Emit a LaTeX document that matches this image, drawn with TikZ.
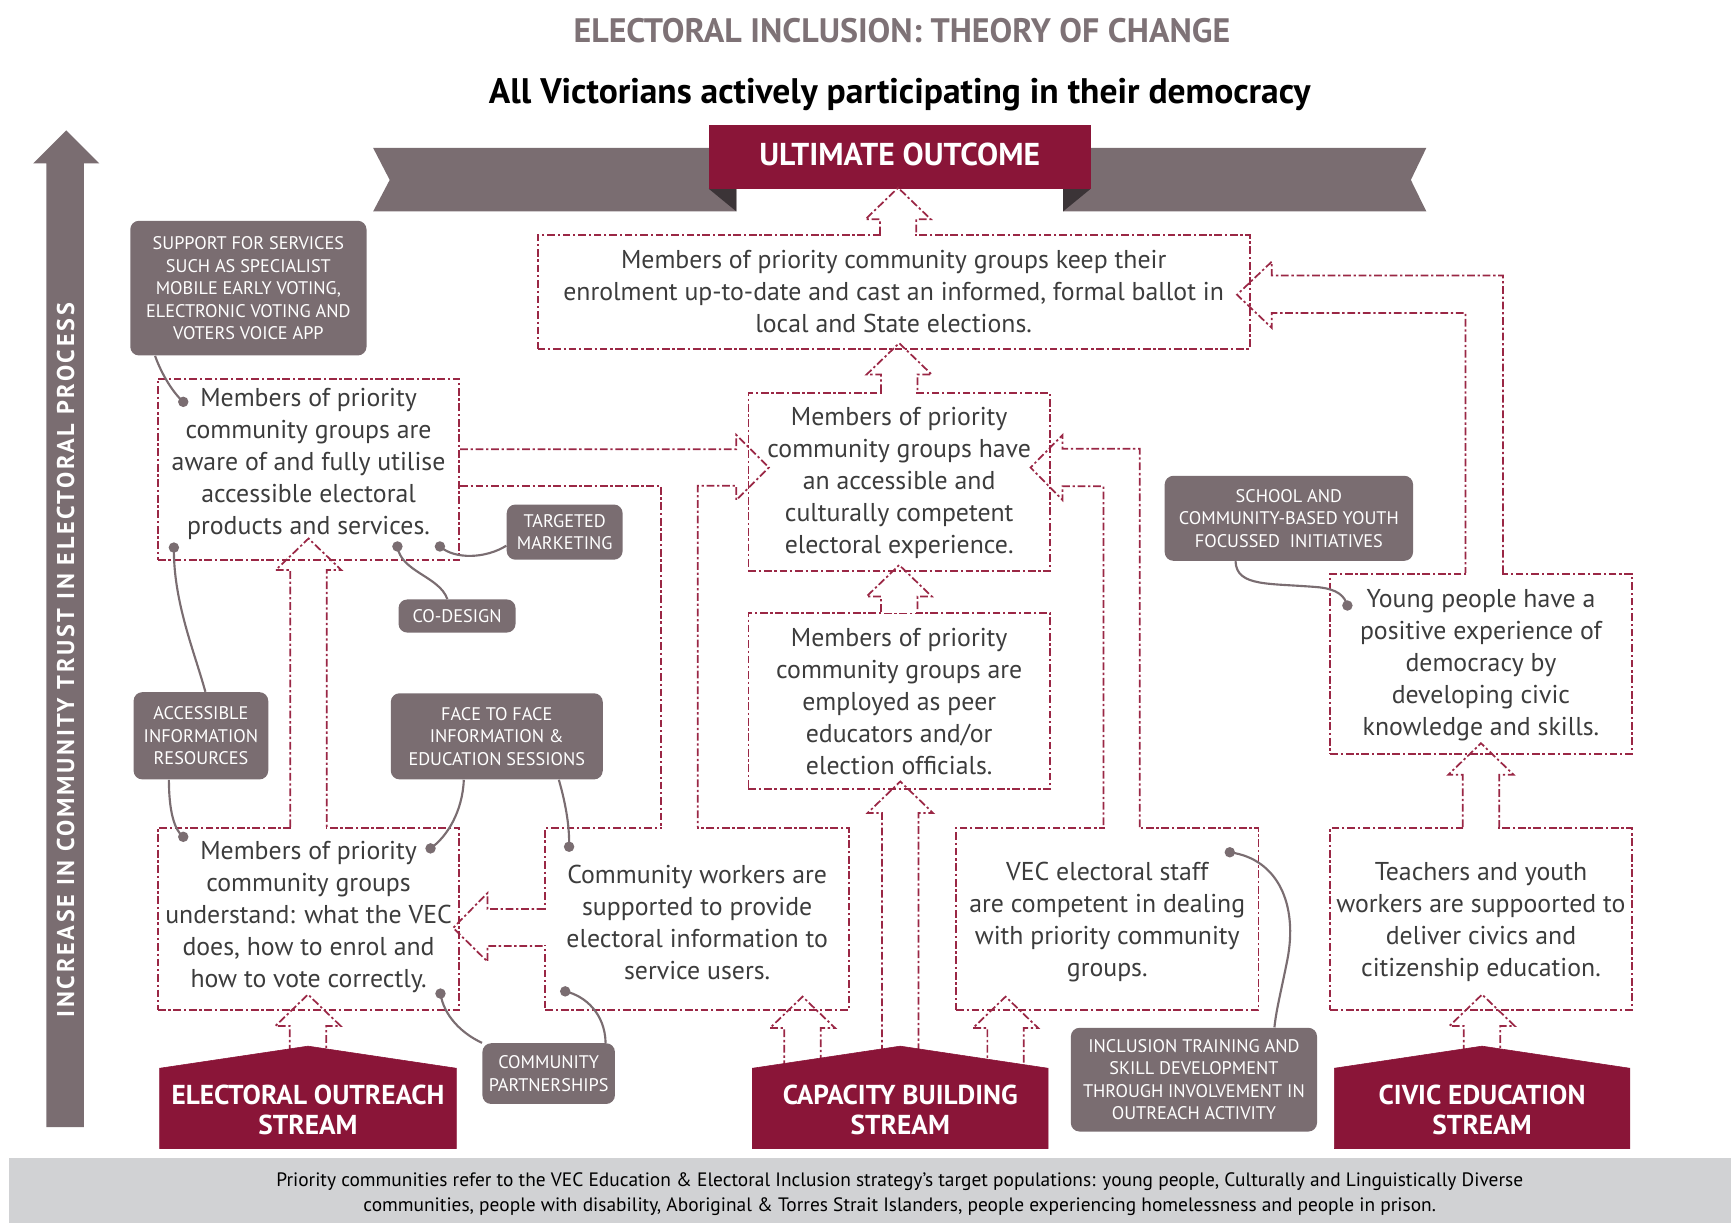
\documentclass[tikz,border=0pt]{standalone}
\usepackage{fontspec}
\setmainfont{PT Sans}
\newfontfamily\trustfamily{PT Sans}[LetterSpace=11]
\usetikzlibrary{fit,calc,positioning}

\definecolor{vecred}{HTML}{8A1538}
\definecolor{flowred}{HTML}{9A2745}
\definecolor{taggray}{HTML}{7A6D71}
\definecolor{folddark}{HTML}{3B3437}
\definecolor{bodytext}{HTML}{3C3C3C}
\definecolor{headgray}{HTML}{7E7276}
\definecolor{notegray}{HTML}{D1D2D4}

\newcommand{\goalfont}{\fontsize{13.3}{16.5}\selectfont}
\newcommand{\tagfont}{\fontsize{9.4}{11.6}\selectfont}
\newcommand{\streamfont}{\fontsize{14.1}{15.4}\selectfont\bfseries}
\newcommand{\headfont}{\fontsize{17.5}{20}\selectfont\bfseries}
\newcommand{\subheadfont}{\fontsize{18.3}{22}\selectfont\bfseries}
\newcommand{\outcomefont}{\fontsize{16.3}{18}\selectfont\bfseries}
\newcommand{\trustfont}{\trustfamily\bfseries\fontsize{12.5}{14}\selectfont}
\newcommand{\notefont}{\fontsize{10}{13}\selectfont}

\tikzset{
  goal/.style={draw=flowred, line width=0.9pt, dash pattern=on 4pt off 1.4pt on 1.2pt off 1.4pt, inner sep=0pt},
  flow/.style={draw=flowred, line width=0.9pt, dash pattern=on 4pt off 1.4pt on 1.2pt off 1.4pt},
  goaltext/.style={align=center, text=bodytext, font=\goalfont, inner sep=0pt},
  tag/.style={fill=taggray, rounded corners=4.5pt, inner sep=0pt},
  tagtext/.style={align=center, text=white, font=\tagfont, inner sep=0pt},
  streambox/.style={inner sep=0pt},
  streamtext/.style={align=center, text=white, font=\streamfont, inner sep=0pt},
  link/.style={draw=taggray, line width=1.1pt},
}

% hollow block arrow: #1 base point (gives x), #2 tip point
\newcommand{\blockup}[2]{%
  \fill[white] let \p1=#1, \p2=#2 in (\x1-8.9pt,\y1-0.8pt) rectangle (\x1+8.9pt,\y2-16.2pt);
  \draw[flow] let \p1=#1, \p2=#2 in (\x1-9.4pt,\y1) -- (\x1-9.4pt,\y2-16.2pt) -- (\x1-16.8pt,\y2-16.2pt)
    -- (\x1,\y2) -- (\x1+16.8pt,\y2-16.2pt) -- (\x1+9.4pt,\y2-16.2pt) -- (\x1+9.4pt,\y1);}

\begin{document}
\begin{tikzpicture}[x=0.02cm, y=-0.02cm]
\useasboundingbox (0,0) rectangle (1568,1108);

% headings
\node[font=\headfont, text=headgray] (heading) at (817,28) {ELECTORAL INCLUSION: THEORY OF CHANGE};
\node[font=\subheadfont, text=black] (subheading) at (815,86) {All Victorians actively participating in their democracy};

% ribbon
\fill[taggray] (338,134) -- (667,134) -- (667,191.5) -- (338,191.5) -- (353,163) -- cycle;
\fill[taggray] (963,134) -- (1292,134) -- (1278,163) -- (1292,191.5) -- (963,191.5) -- cycle;
\fill[folddark] (642,171) -- (667,171) -- (667,191.5) -- cycle;
\fill[folddark] (963,171) -- (988,171) -- (963,191.5) -- cycle;
\node[fill=vecred, inner sep=0pt, fit={(642,113) (988,171.5)}] (ultimate) {};
\node[text=white, font=\outcomefont, inner sep=0pt] (ultimatetxt) at ([yshift=1.4pt]ultimate) {ULTIMATE OUTCOME};

% trust arrow
\fill[taggray] (42,1021) -- (42,148) -- (30,148) -- (60,118) -- (90,148) -- (76,148) -- (76,1021) -- cycle;
\node[rotate=90, text=white, font=\trustfont] (trust) at (59.5,598) {INCREASE IN COMMUNITY TRUST IN ELECTORAL PROCESS};

% outcome boxes
\node[goal, fit={(487,213) (1132,316)}] (keep) {};
\node[goal, fit={(143,343) (416,507)}] (aware) {};
\node[goal, fit={(678,356) (951,517)}] (have) {};
\node[goal, fit={(678,555) (951,715)}] (employed) {};
\node[goal, fit={(143,750) (416,915)}] (understand) {};
\node[goal, fit={(494,750) (769,915)}] (workers) {};
\node[goal, fit={(866,750) (1140,915)}] (staff) {};
\node[goal, fit={(1205,520) (1478,683)}] (young) {};
\node[goal, fit={(1205,750) (1478,915)}] (teachers) {};

% streams
\node[streambox, fit={(145,968) (413,1040)}] (outreach) {};
\node[streambox, fit={(682,968) (949,1040)}] (capacity) {};
\node[streambox, fit={(1209,968) (1476,1040)}] (civic) {};

% block arrows
\blockup{([xshift=2.3pt]keep.north)}{([yshift=1pt]ultimate.south)}
\blockup{(have.north)}{([yshift=3.4pt]keep.south)}
\blockup{(employed.north)}{([yshift=3.4pt]have.south)}
\blockup{(capacity.north)}{([yshift=4.5pt]employed.south)}
\blockup{([xshift=-50.4pt]capacity.north)}{([yshift=7.4pt]workers.south)}
\blockup{([xshift=54.3pt]capacity.north)}{([yshift=7.4pt]staff.south)}
\blockup{(outreach.north)}{([yshift=8.5pt]understand.south)}
\blockup{(civic.north)}{([yshift=8.5pt]teachers.south)}
\blockup{(understand.north)}{([yshift=11.4pt]aware.south)}
\blockup{(teachers.north)}{([yshift=6pt]young.south)}

% channels into have
\fill[white] (599.5,747) rectangle (631,753);
\draw[flow] (aware.east |- 0,407) -- (667,407) -- (667,394) -- (696.5,423.5) -- (667,453) -- (667,440)
  -- (632,440) -- (workers.north -| 632,0);
\draw[flow] (aware.east |- 0,440) -- (598.5,440) -- (workers.north -| 598.5,0);
\fill[white] (1000.5,747) rectangle (1031.5,753);
\draw[flow] (staff.north -| 1032.5,0) -- (1032.5,406.5) -- (962.5,406.5) -- (962.5,394) -- (933.5,423.5)
  -- (962.5,453) -- (962.5,440.5) -- (999.5,440.5) -- (staff.north -| 999.5,0);
% channel into keep
\fill[white] (1328.5,517) rectangle (1360.5,523);
\draw[flow] (young.north -| 1361.5,0) -- (1361.5,249.5) -- (1152,249.5) -- (1152,237) -- (1120.5,267)
  -- (1152,297) -- (1152,283.5) -- (1327.5,283.5) -- (young.north -| 1327.5,0);
% channel into understand
\fill[white] (491,824.5) rectangle (497,856);
\draw[flow] (workers.west |- 0,823.5) -- (441.5,823.5) -- (441.5,809) -- (410.5,840.5) -- (441.5,871)
  -- (441.5,857) -- (workers.west |- 0,857);

% stream shapes
\foreach \s in {outreach,capacity,civic}
  \filldraw[vecred, line width=0.3pt] (\s.south west) -- (\s.north west) -- ([yshift=11.4pt]\s.north)
    -- (\s.north east) -- (\s.south east) -- cycle;
\node[streamtext] (outreachtxt) at ([yshift=-0.8pt]outreach) {ELECTORAL OUTREACH\\STREAM};
\node[streamtext] (capacitytxt) at ([yshift=-0.8pt]capacity) {CAPACITY BUILDING\\STREAM};
\node[streamtext] (civictxt) at ([yshift=-0.8pt]civic) {CIVIC EDUCATION\\STREAM};

% box texts
\node[goaltext] (keeptxt) at (keep) {Members of priority community groups keep their\\enrolment up-to-date and cast an informed, formal ballot in\\local and State elections.};
\node[goaltext] (awaretxt) at ([yshift=2.5pt]aware) {Members of priority\\community groups are\\aware of and fully utilise\\accessible electoral\\products  and services.};
\node[goaltext] (havetxt) at ([yshift=-0.7pt]have) {Members of priority\\community groups have\\an accessible and\\culturally competent\\electoral experience.};
\node[goaltext] (employedtxt) at ([yshift=-0.2pt]employed) {Members of priority\\community groups are\\employed as peer\\educators and/or\\election officials.};
\node[goaltext] (understandtxt) at ([yshift=0.8pt]understand) {Members of priority\\community groups\\understand: what the VEC\\does, how to enrol and\\how to vote correctly.};
\node[goaltext] (workerstxt) at ([yshift=-1.7pt]workers) {Community workers are\\supported to provide\\electoral information to\\service users.};
\node[goaltext] (stafftxt) at ([yshift=-1.3pt]staff) {VEC electoral staff\\are competent in dealing\\with priority community\\groups.};
\node[goaltext] (youngtxt) at ([yshift=-0.8pt]young) {Young people have a\\positive experience of\\democracy by\\developing civic\\knowledge and skills.};
\node[goaltext] (teacherstxt) at ([yshift=-1.6pt]teachers) {Teachers and youth\\workers are suppoorted to\\deliver civics and\\citizenship education.};

% tags
\node[tag, fit={(118,200) (332,322)}] (support) {};
\node[tag, fit={(459,457) (564,507)}] (targeted) {};
\node[tag, fit={(361,543) (467,573)}] (codesign) {};
\node[tag, fit={(121,627) (243,706)}] (resources) {};
\node[tag, fit={(354,628) (546,706)}] (facetoface) {};
\node[tag, fit={(437,945) (557,1000)}] (partnerships) {};
\node[tag, fit={(970,931) (1193,1025)}] (inclusion) {};
\node[tag, fit={(1055,431) (1280,508)}] (school) {};
\node[tagtext] (supporttxt) at (support) {SUPPORT FOR SERVICES\\SUCH AS SPECIALIST\\MOBILE EARLY VOTING,\\ELECTRONIC VOTING AND\\VOTERS VOICE APP};
\node[tagtext] (targetedtxt) at (targeted) {TARGETED\\MARKETING};
\node[tagtext] (codesigntxt) at (codesign) {CO-DESIGN};
\node[tagtext] (resourcestxt) at (resources) {ACCESSIBLE\\INFORMATION\\RESOURCES};
\node[tagtext] (facetofacetxt) at (facetoface) {FACE TO FACE\\INFORMATION \&\\EDUCATION SESSIONS};
\node[tagtext] (partnershipstxt) at (partnerships) {COMMUNITY\\PARTNERSHIPS};
\node[tagtext] (inclusiontxt) at (inclusion) {INCLUSION TRAINING AND\\SKILL DEVELOPMENT\\THROUGH INVOLVEMENT IN\\OUTREACH ACTIVITY};
\node[tagtext] (schooltxt) at (school) {SCHOOL AND\\COMMUNITY-BASED YOUTH\\FOCUSSED\ \ INITIATIVES};

% link ends
\coordinate (dotsup) at (166,364);
\coordinate (dotres) at (157.5,496);
\coordinate (dotcod) at (360,495);
\coordinate (dottar) at (398.5,495);
\coordinate (dotund) at (166,758);
\coordinate (dotfac) at (390,768.5);
\coordinate (dotwrk) at (515.5,767);
\coordinate (dotpar) at (399,900);
\coordinate (dotwrb) at (512,898);
\coordinate (dotinc) at (1114,772);
\coordinate (dotyou) at (1220.5,548.5);

\draw[link] ([xshift=13pt]support.south west) .. controls (146,338) and (156,355) .. (dotsup);
\draw[link] (dotres) .. controls (157,545) and (176,590) .. ([xshift=2.3pt]resources.north);
\draw[link] ([xshift=-16.5pt]resources.south) .. controls (153,735) and (158,752) .. (dotund);
\draw[link] (dotcod) .. controls (363,518) and (398,522) .. ([xshift=-5pt]codesign.north);
\draw[link] (dottar) .. controls (412,507) and (440,506) .. ([yshift=-7pt]targeted.west);
\draw[link] ([xshift=-17pt]facetoface.south) .. controls (419,735) and (405,758) .. (dotfac);
\draw[link] ([xshift=32pt]facetoface.south) .. controls (513,730) and (516,750) .. (dotwrk);
\draw[link] (dotpar) .. controls (402,920) and (418,936) .. (partnerships.north west);
\draw[link] (dotwrb) .. controls (530,902) and (548,918) .. ([xshift=-5pt]partnerships.north east);
\draw[link] (dotinc) .. controls (1158,778) and (1176,820) .. (1166,870) .. controls (1160,900) and (1156,915) .. ([xshift=41.5pt]inclusion.north);
\draw[link] ([xshift=-27.5pt]school.south) .. controls (1120,532) and (1150,528) .. (1195,532) .. controls (1212,534) and (1218,540) .. (dotyou);
\foreach \d in {dotsup,dotres,dotcod,dottar,dotund,dotfac,dotwrk,dotpar,dotwrb,dotinc,dotyou}
  \fill[taggray] (\d) circle (2.7pt);

% note band
\fill[notegray] (8,1049) rectangle (1568,1108);
\node[align=center, font=\notefont, text=black] (note) at (815,1082) {Priority communities refer to the VEC Education \& Electoral Inclusion strategy’s target populations: young people, Culturally and Linguistically Diverse\\communities, people with disability, Aboriginal \& Torres Strait Islanders, people experiencing homelessness and people in prison.};

\end{tikzpicture}
\end{document}
